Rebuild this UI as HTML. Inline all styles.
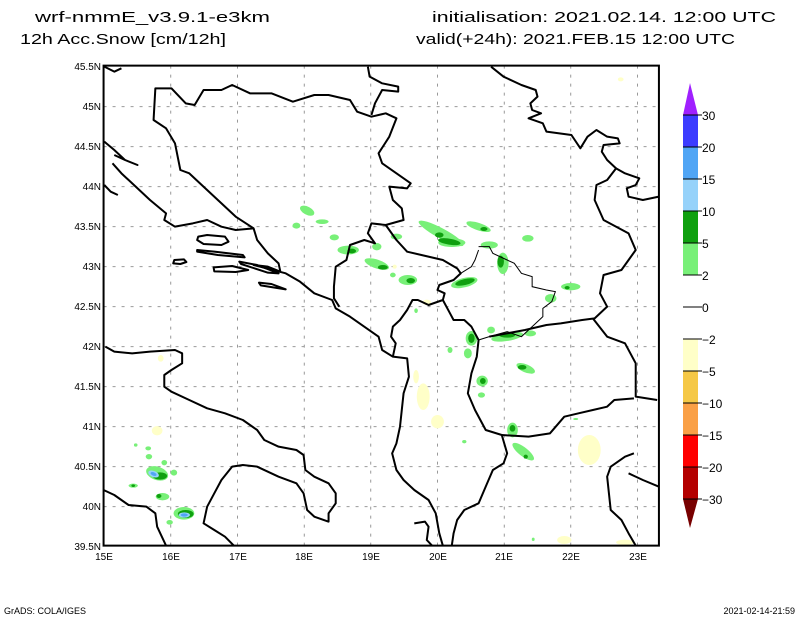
<!DOCTYPE html>
<html><head><meta charset="utf-8"><style>
html,body{margin:0;padding:0;background:#fff;}
svg{display:block;}
text{font-family:"Liberation Sans",sans-serif;fill:#000;}
</style></head><body>
<svg width="800" height="618" viewBox="0 0 800 618" xmlns="http://www.w3.org/2000/svg">
<rect width="800" height="618" fill="#fff"/>
<text x="35" y="22" font-size="15" textLength="235" lengthAdjust="spacingAndGlyphs">wrf-nmmE_v3.9.1-e3km</text>
<text x="20" y="44" font-size="15" textLength="206" lengthAdjust="spacingAndGlyphs">12h Acc.Snow [cm/12h]</text>
<text x="432" y="22" font-size="15" textLength="344" lengthAdjust="spacingAndGlyphs">initialisation: 2021.02.14.  12:00 UTC</text>
<text x="416" y="44" font-size="15" textLength="319" lengthAdjust="spacingAndGlyphs">valid(+24h): 2021.FEB.15 12:00 UTC</text>

<g transform="translate(100,60) scale(0.357143,0.333333)">
<g stroke="#999" stroke-width="1" stroke-dasharray="3,6" fill="none">
<path vector-effect="non-scaling-stroke" d="M198 17V1457M385 17V1457M572 17V1457M758 17V1457M945 17V1457M1132 17V1457M1318 17V1457M1505 17V1457"/>
<path vector-effect="non-scaling-stroke" d="M10 140H1565M10 260H1565M10 380H1565M10 500H1565M10 620H1565M10 740H1565M10 860H1565M10 980H1565M10 1100H1565M10 1220H1565M10 1340H1565"/>
</g>
<g fill="#ffffc8">
<ellipse cx="1370" cy="1170" rx="32" ry="45"/><ellipse cx="905" cy="1010" rx="18" ry="40"/><ellipse cx="945" cy="1085" rx="18" ry="20"/>
<ellipse cx="160" cy="1112" rx="15" ry="14"/><ellipse cx="170" cy="895" rx="8" ry="10"/><ellipse cx="1300" cy="1440" rx="20" ry="12"/>
<ellipse cx="1470" cy="1447" rx="25" ry="8"/><ellipse cx="1458" cy="58" rx="8" ry="6"/><ellipse cx="915" cy="727" rx="12" ry="8"/>
<ellipse cx="885" cy="950" rx="8" ry="20"/><ellipse cx="825" cy="620" rx="6" ry="6"/>
</g>
<g fill="#78f078">
<ellipse cx="580" cy="452" rx="22" ry="12" transform="rotate(30 580 452)"/><ellipse cx="622" cy="485" rx="18" ry="7"/><ellipse cx="550" cy="497" rx="11" ry="9"/>
<ellipse cx="656" cy="532" rx="13" ry="9"/><ellipse cx="695" cy="570" rx="30" ry="13"/><ellipse cx="775" cy="560" rx="13" ry="11"/>
<ellipse cx="775" cy="612" rx="36" ry="13" transform="rotate(20 775 612)"/><ellipse cx="862" cy="660" rx="26" ry="15"/><ellipse cx="830" cy="530" rx="16" ry="9"/>
<ellipse cx="820" cy="645" rx="8" ry="7"/>
<ellipse cx="955" cy="520" rx="72" ry="15" transform="rotate(30 955 520)"/><ellipse cx="985" cy="548" rx="38" ry="13"/>
<ellipse cx="1060" cy="500" rx="36" ry="11" transform="rotate(20 1060 500)"/><ellipse cx="1198" cy="535" rx="16" ry="10"/><ellipse cx="1090" cy="555" rx="24" ry="11"/>
<ellipse cx="1128" cy="610" rx="16" ry="32"/><ellipse cx="1020" cy="668" rx="38" ry="14" transform="rotate(-15 1020 668)"/><ellipse cx="1318" cy="680" rx="27" ry="11"/>
<ellipse cx="1262" cy="715" rx="16" ry="13"/>
<ellipse cx="1040" cy="835" rx="16" ry="22"/><ellipse cx="1030" cy="880" rx="11" ry="15"/><ellipse cx="1095" cy="810" rx="11" ry="10"/>
<ellipse cx="1140" cy="830" rx="45" ry="13" transform="rotate(-10 1140 830)"/><ellipse cx="1205" cy="820" rx="16" ry="9"/><ellipse cx="980" cy="870" rx="7" ry="9"/>
<ellipse cx="1192" cy="925" rx="28" ry="12" transform="rotate(25 1192 925)"/><ellipse cx="1070" cy="963" rx="16" ry="16"/><ellipse cx="1068" cy="1005" rx="10" ry="8"/>
<ellipse cx="1155" cy="1110" rx="15" ry="22"/><ellipse cx="1185" cy="1175" rx="38" ry="13" transform="rotate(40 1185 1175)"/>
<ellipse cx="1020" cy="1145" rx="6" ry="5"/><ellipse cx="1213" cy="1438" rx="4" ry="5"/><ellipse cx="1332" cy="1077" rx="7" ry="3"/><ellipse cx="885" cy="752" rx="5" ry="7"/>
<ellipse cx="160" cy="1240" rx="32" ry="20" transform="rotate(20 160 1240)"/><ellipse cx="135" cy="1165" rx="8" ry="6"/><ellipse cx="137" cy="1190" rx="9" ry="8"/>
<ellipse cx="180" cy="1208" rx="8" ry="8"/><ellipse cx="207" cy="1238" rx="9" ry="9"/><ellipse cx="93" cy="1277" rx="13" ry="6"/>
<ellipse cx="175" cy="1310" rx="19" ry="11"/><ellipse cx="235" cy="1360" rx="29" ry="19"/><ellipse cx="195" cy="1387" rx="9" ry="7"/><ellipse cx="100" cy="1155" rx="5" ry="5"/>
</g>
<g fill="#0fa00f">
<ellipse cx="705" cy="573" rx="12" ry="7"/><ellipse cx="792" cy="622" rx="14" ry="7"/><ellipse cx="870" cy="662" rx="12" ry="8"/>
<ellipse cx="978" cy="545" rx="32" ry="9" transform="rotate(10 978 545)"/><ellipse cx="950" cy="525" rx="12" ry="8"/><ellipse cx="1075" cy="507" rx="10" ry="6"/>
<ellipse cx="1122" cy="605" rx="9" ry="18"/><ellipse cx="1022" cy="666" rx="28" ry="9" transform="rotate(-15 1022 666)"/>
<ellipse cx="1040" cy="835" rx="9" ry="14"/><ellipse cx="1140" cy="826" rx="22" ry="7"/><ellipse cx="1182" cy="922" rx="12" ry="7"/>
<ellipse cx="1072" cy="963" rx="8" ry="9"/><ellipse cx="1155" cy="1105" rx="8" ry="10"/><ellipse cx="1192" cy="1190" rx="6" ry="6"/>
<ellipse cx="168" cy="1248" rx="20" ry="11"/><ellipse cx="165" cy="1308" rx="7" ry="6"/><ellipse cx="240" cy="1362" rx="22" ry="12"/><ellipse cx="93" cy="1277" rx="5" ry="4"/><ellipse cx="1308" cy="683" rx="7" ry="5"/>
</g>
<g fill="#96d2fa"><ellipse cx="150" cy="1242" rx="16" ry="9" transform="rotate(25 150 1242)"/><ellipse cx="236" cy="1365" rx="16" ry="8"/></g>
<g fill="#50a5f5"><ellipse cx="150" cy="1242" rx="9" ry="5" transform="rotate(25 150 1242)"/><ellipse cx="236" cy="1365" rx="10" ry="5"/></g>

<g fill="none" stroke="#000" stroke-width="2" stroke-linejoin="round">
<path vector-effect="non-scaling-stroke" d="M12 245L40 270L70 300L105 315L70 300L40 285"/>
<path vector-effect="non-scaling-stroke" d="M35 310L60 340L100 380L140 420L185 460L180 480L210 500L260 490L300 480L340 500L380 510L430 505L440 540L470 580L500 610L505 635L470 620L430 615L520 640L560 665L600 700L650 720L660 745L700 770L740 800L780 830L790 870L820 890L860 895L865 950L850 1000L845 1050L840 1100L830 1150L818 1180L830 1230L850 1260L880 1290L920 1320L940 1360L950 1420L960 1457"/>
<path vector-effect="non-scaling-stroke" d="M12 375L30 395L50 405"/>
<path vector-effect="non-scaling-stroke" d="M430 505L380 470L330 420L280 370L250 340L225 330L210 250L185 205L150 180L155 85L200 85L240 130L265 135L290 90L340 90L370 75L420 100L480 100L540 125L600 105L640 105L700 120L720 155L760 170L800 160L830 175L810 230L780 280L790 310L830 340L870 370L860 385L810 380L820 420L845 445L850 480L800 495L760 490L750 520L770 550L740 540L700 555L690 600L660 620L655 680L655 715L670 740"/>
<path vector-effect="non-scaling-stroke" d="M750 20L755 50L790 70L835 80L835 95L790 90L770 130L760 165"/>
<path vector-effect="non-scaling-stroke" d="M12 20L40 35L60 25"/>
<path vector-effect="non-scaling-stroke" d="M1095 20L1130 50L1180 75L1220 90L1225 110L1205 130L1210 150L1235 160L1200 175L1240 190L1250 215L1320 225L1345 265L1365 230L1390 210L1420 230L1450 235L1455 250L1410 255L1405 275L1420 300L1445 325L1420 360L1390 375L1385 420L1410 480L1480 520L1500 570L1480 600L1460 630L1410 645L1400 700L1420 740L1385 775L1350 780L1290 790L1250 795L1190 810L1090 830"/>
<path vector-effect="non-scaling-stroke" d="M1445 325L1470 340L1510 355L1500 375L1475 385L1480 410L1520 420L1565 410"/>
<path vector-effect="non-scaling-stroke" d="M800 495L830 540L860 575L900 585L960 600L1000 625L1010 640L990 660L950 675L945 690L965 700L960 720L920 735L890 720L875 720L860 750L840 780L820 800L815 830L828 850L820 890"/>
<path vector-effect="non-scaling-stroke" d="M960 720L980 760L990 780L1020 780L1040 800L1060 840L1055 890L1040 940L1030 1000L1050 1050L1080 1110L1125 1125L1140 1180L1130 1210L1100 1230L1080 1280L1060 1330L1020 1350L1000 1380L990 1420L985 1457"/>
<path vector-effect="non-scaling-stroke" d="M1380 775L1420 830L1470 850L1500 910L1500 1010L1560 1020"/>
<path vector-effect="non-scaling-stroke" d="M1125 1125L1200 1130L1260 1120L1300 1070L1340 1060L1380 1050L1420 1040L1440 1020L1495 1015"/>
<path vector-effect="non-scaling-stroke" d="M1495 1180L1470 1190L1430 1220L1420 1250L1425 1300L1430 1350L1460 1380L1480 1420L1500 1457"/>
<path vector-effect="non-scaling-stroke" d="M1480 1240L1520 1260L1565 1280"/>
<path vector-effect="non-scaling-stroke" d="M15 860L40 875L90 880L140 875L210 870L230 880L230 910L200 930L180 945L180 980L200 995L250 1020L300 1045L350 1060L400 1080L440 1110L460 1140L500 1160L550 1170L570 1185L575 1230L600 1250L640 1270L660 1300L660 1330L640 1360L640 1385L600 1370L580 1350L570 1300L550 1270L500 1250L440 1220L400 1215L370 1220L340 1260L320 1300L300 1340L290 1390L320 1410L350 1430L375 1457"/>
<path vector-effect="non-scaling-stroke" d="M10 1290L40 1305L80 1335L130 1340L155 1360L160 1400L185 1457"/>
<path vector-effect="non-scaling-stroke" d="M880 1390L910 1385L920 1400L915 1440L930 1457"/>
<path vector-effect="non-scaling-stroke" d="M275 530L300 525L350 530L360 545L340 555L290 552L272 540Z"/>
<path vector-effect="non-scaling-stroke" d="M272 570L320 575L400 585L405 592L330 585L272 575Z"/>
<path vector-effect="non-scaling-stroke" d="M208 600L235 598L242 606L225 612L205 610Z"/>
<path vector-effect="non-scaling-stroke" d="M318 622L370 618L415 630L380 636L320 634Z"/>
<path vector-effect="non-scaling-stroke" d="M390 605L440 615L500 640L470 638L395 612Z"/>
<path vector-effect="non-scaling-stroke" d="M445 668L480 672L520 688L450 676Z"/>
</g>
<path vector-effect="non-scaling-stroke" fill="none" stroke="#000" stroke-width="1" d="M1060 560L1090 560L1100 580L1140 600L1160 610L1180 640L1210 650L1210 680L1250 690L1275 695L1265 725L1240 745L1240 770L1215 795L1180 830L1140 815L1090 830L1060 840M1060 570L1050 600L1040 620L1010 640"/>
<rect x="10" y="17" width="1555" height="1440" fill="none" stroke="#000" stroke-width="2" vector-effect="non-scaling-stroke"/>
</g>

<g font-size="10" text-anchor="end">
<text x="101" y="70">45.5N</text><text x="101" y="110">45N</text><text x="101" y="150">44.5N</text><text x="101" y="190">44N</text>
<text x="101" y="230">43.5N</text><text x="101" y="270">43N</text><text x="101" y="310">42.5N</text><text x="101" y="350">42N</text>
<text x="101" y="390">41.5N</text><text x="101" y="430">41N</text><text x="101" y="470">40.5N</text><text x="101" y="510">40N</text><text x="101" y="550">39.5N</text>
</g>
<g font-size="10" text-anchor="middle">
<text x="104" y="560">15E</text><text x="171" y="560">16E</text><text x="238" y="560">17E</text><text x="304" y="560">18E</text>
<text x="371" y="560">19E</text><text x="438" y="560">20E</text><text x="504" y="560">21E</text><text x="571" y="560">22E</text><text x="638" y="560">23E</text>
</g>

<polygon points="690,83 683,115 698,115" fill="#a020ff"/>
<rect x="683" y="115" width="15" height="32" fill="#3c3cff"/>
<rect x="683" y="147" width="15" height="32" fill="#50a5f5"/>
<rect x="683" y="179" width="15" height="32" fill="#96d2fa"/>
<rect x="683" y="211" width="15" height="32" fill="#0fa00f"/>
<rect x="683" y="243" width="15" height="32" fill="#78f078"/>
<rect x="683" y="339" width="15" height="32" fill="#ffffc8"/>
<rect x="683" y="371" width="15" height="32" fill="#f5c846"/>
<rect x="683" y="403" width="15" height="32" fill="#faa046"/>
<rect x="683" y="435" width="15" height="32" fill="#ff0000"/>
<rect x="683" y="467" width="15" height="32" fill="#b40000"/>
<polygon points="683,499 698,499 690,528" fill="#780000"/>
<g stroke="#000" stroke-width="1">
<path d="M683 147H702M683 179H702M683 211H702M683 243H702M683 275H702M683 307H702M683 339H702M683 371H702M683 403H702M683 435H702M683 467H702M683 499H702M683 115H702"/>
</g>
<g font-size="12">
<text x="702" y="120">30</text><text x="702" y="152">20</text><text x="702" y="184">15</text><text x="702" y="216">10</text>
<text x="702" y="248">5</text><text x="702" y="280">2</text><text x="702" y="312">0</text><text x="702" y="344">−2</text>
<text x="702" y="376">−5</text><text x="702" y="408">−10</text><text x="702" y="440">−15</text><text x="702" y="472">−20</text><text x="702" y="504">−30</text>
</g>
<text x="4" y="614" font-size="9">GrADS: COLA/IGES</text>
<text x="795" y="614" font-size="9" text-anchor="end">2021-02-14-21:59</text>
</svg>
</body></html>
